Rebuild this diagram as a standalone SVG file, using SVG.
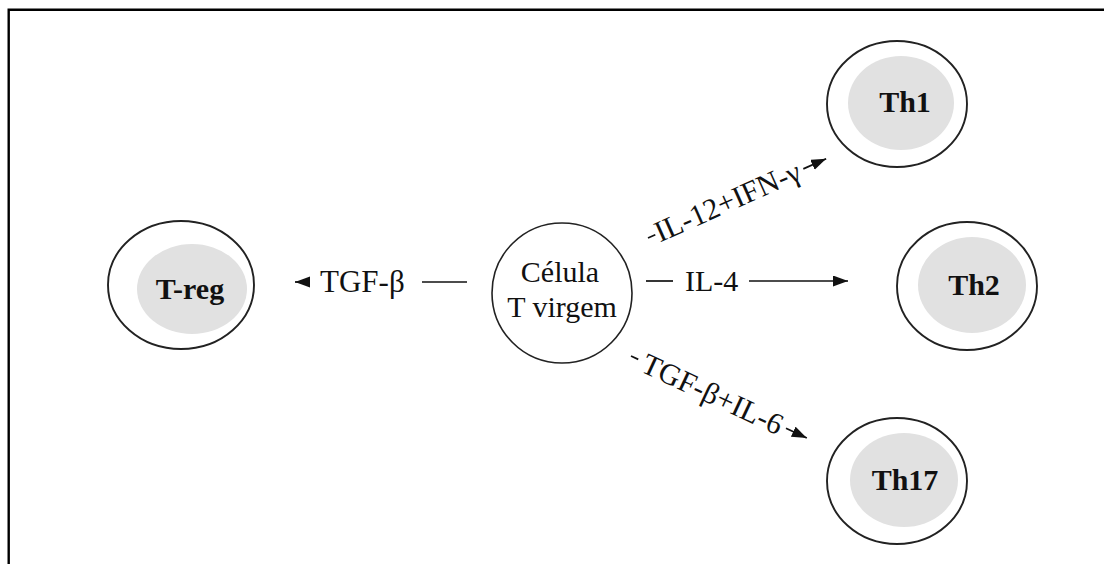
<svg xmlns="http://www.w3.org/2000/svg" width="1104" height="564" viewBox="0 0 1104 564">
<defs>
<style>
.lbl{font-family:"Liberation Serif","Times New Roman",serif;font-size:30px;fill:#111}
.nlbl{font-family:"Liberation Serif","Times New Roman",serif;font-size:30px;font-weight:bold;fill:#111;text-anchor:middle}
.outer{fill:#fff;stroke:#222;stroke-width:1.9}
.inner{fill:#e1e1e1;stroke:none}
.ln{stroke:#111;stroke-width:1.7;fill:none}
</style>
<marker id="ah" markerUnits="userSpaceOnUse" markerWidth="18" markerHeight="14" refX="15" refY="5.5" orient="auto">
<path d="M0,0 L15,5.5 L0,11 Z" fill="#111"/>
</marker>
</defs>
<rect width="1104" height="564" fill="#fff"/>
<path d="M8.7,564 V9.8 H1104" fill="none" stroke="#000" stroke-width="2.4"/>

<g id="node-naive">
<circle cx="562" cy="293" r="70" fill="#fff" stroke="#222" stroke-width="1.6"/>
<text class="lbl" x="560" y="282" text-anchor="middle">Célula</text>
<text class="lbl" x="562" y="317" text-anchor="middle">T virgem</text>
</g>

<g id="node-treg">
<ellipse class="outer" cx="181" cy="285" rx="73" ry="64"/>
<ellipse class="inner" cx="192" cy="289" rx="55" ry="45"/>
<text class="nlbl" x="190" y="299">T-reg</text>
</g>

<g id="node-th1">
<ellipse class="outer" cx="897" cy="104" rx="70" ry="63"/>
<ellipse class="inner" cx="901" cy="103" rx="53" ry="47"/>
<text class="nlbl" x="905" y="112">Th1</text>
</g>

<g id="node-th2">
<ellipse class="outer" cx="967" cy="286" rx="70" ry="64"/>
<ellipse class="inner" cx="972" cy="285" rx="54" ry="48"/>
<text class="nlbl" x="974" y="295">Th2</text>
</g>

<g id="node-th17">
<ellipse class="outer" cx="897" cy="481" rx="70" ry="63"/>
<ellipse class="inner" cx="904" cy="480" rx="54" ry="47"/>
<text class="nlbl" x="905" y="490">Th17</text>
</g>

<g id="connectors">
<g id="edge-treg">
<line class="ln" x1="309" y1="282" x2="295" y2="282" marker-end="url(#ah)"/>
<text class="lbl" x="320" y="292" style="font-size:31px">TGF-β</text>
<line class="ln" x1="422" y1="282" x2="467" y2="282"/>
</g>
<g id="edge-th2">
<line class="ln" x1="646" y1="281" x2="673" y2="281"/>
<text class="lbl" x="685" y="291">IL-4</text>
<line class="ln" x1="749" y1="281" x2="848" y2="281" marker-end="url(#ah)"/>
</g>
<g id="edge-th1" transform="translate(648,238) rotate(-24)">
<line class="ln" x1="0" y1="0" x2="8" y2="0"/>
<text class="lbl" x="9" y="9">IL-12+IFN-γ</text>
<line class="ln" x1="170" y1="0" x2="195" y2="0" marker-end="url(#ah)"/>
</g>
<g id="edge-th17" transform="translate(631,356) rotate(25)">
<line class="ln" x1="0" y1="0" x2="8" y2="0"/>
<text class="lbl" x="14" y="10">TGF-β+IL-6</text>
<line class="ln" x1="171" y1="0" x2="194" y2="0" marker-end="url(#ah)"/>
</g>
</g>
</svg>
